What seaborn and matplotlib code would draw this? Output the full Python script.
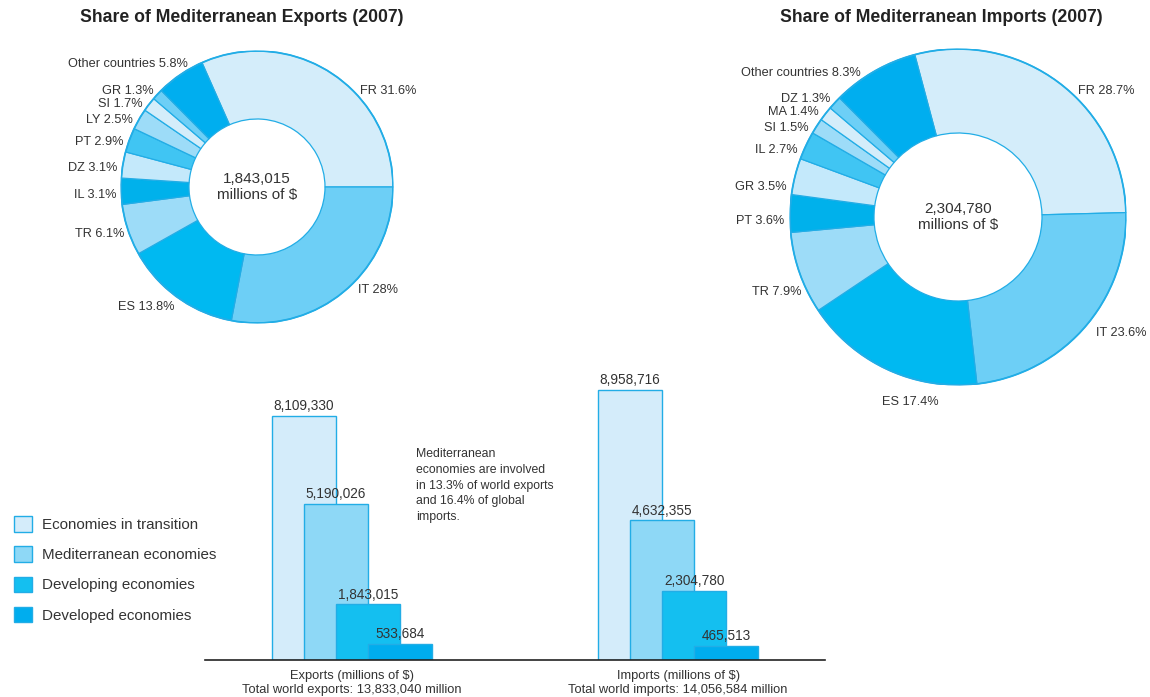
import numpy as np
import pandas as pd
import seaborn as sns
import matplotlib.pyplot as plt
from matplotlib.patches import Patch

# DATA
exp_countries = ["FR", "IT", "ES", "TR", "IL", "DZ", "PT", "LY", "SI", "GR", "Other countries"]
exp_share = [31.6, 28, 13.8, 6.1, 3.1, 3.1, 2.9, 2.5, 1.7, 1.3, 5.8]
exp_total = "1,843,015"

imp_countries = ["FR", "IT", "ES", "TR", "PT", "GR", "IL", "SI", "MA", "DZ", "Other countries"]
imp_share = [28.7, 23.6, 17.4, 7.9, 3.6, 3.5, 2.7, 1.5, 1.4, 1.3, 8.3]
imp_total = "2,304,780"

groups = ["Economies in transition", "Mediterranean economies",
          "Developing economies", "Developed economies"]
exports_val = [8109330, 5190026, 1843015, 533684]
imports_val = [8958716, 4632355, 2304780, 465513]
flow_labels = ["Exports (millions of $)\nTotal world exports: 13,833,040 million",
               "Imports (millions of $)\nTotal world imports: 14,056,584 million"]
note = ("Mediterranean\neconomies are involved\nin 13.3% of world exports\n"
        "and 16.4% of global\nimports.")

# label nudges (angle in degrees, radius), layout only
exp_nudge = {"FR": (-14, 1.035), "IT": (5, 1.06), "Other countries": (-5, 1.035),
             "SI": (1.5, 1.035), "LY": (1.5, 1.035), "PT": (1.5, 1.035),
             "DZ": (1.5, 1.035), "IL": (1.5, 1.035), "TR": (1, 1.035)}
imp_nudge = {"FR": (-7, 1.035), "IT": (1, 1.07), "ES": (10, 1.1), "TR": (6, 1.035),
             "PT": (2.5, 1.035), "GR": (4, 1.035), "IL": (2.5, 1.035),
             "SI": (2, 1.035), "MA": (1, 1.035), "Other countries": (4, 1.035)}

# STYLE
sns.set_style("white")
plt.rcParams["font.family"] = ["Liberation Sans", "DejaVu Sans"]
TXT = "#333333"
EDGE = "#22ade6"
pie_colors = ["#d4edfa", "#6dcff6", "#00b9f1", "#9ddcf8", "#00b1eb", "#c4e9fb",
              "#40c5f3", "#9ddcf8", "#d4edfa", "#6dcff6", "#00aeef"]
bar_colors = ["#d4ecfa", "#8ed8f6", "#14bff0", "#00adee"]

W, H = 1150, 697
fig = plt.figure(figsize=(W / 100, H / 100), dpi=100)


def px_axes(cx, cy, size):
    return fig.add_axes([(cx - size / 2) / W, 1 - (cy + size / 2) / H, size / W, size / H])


def donut(ax, shares, names, total, rot, nudge):
    start = shares[0] / sum(shares) * 360 + rot
    wedges, _ = ax.pie(shares, colors=pie_colors, startangle=start, counterclock=False,
                       wedgeprops=dict(width=0.5, edgecolor=EDGE, linewidth=0.9))
    ax.add_patch(plt.Circle((0, 0), 1, fill=False, edgecolor=EDGE, linewidth=1.3))
    ax.set_xlim(-1, 1)
    ax.set_ylim(-1, 1)
    for w, name, v in zip(wedges, names, shares):
        d_ang, r = nudge.get(name, (0, 1.035))
        ang = np.deg2rad((w.theta1 + w.theta2) / 2 + d_ang)
        x, y = np.cos(ang), np.sin(ang)
        ha = "left" if x > 0 else "right"
        va = "center"
        if y < -0.9:
            ha, va = "center", "top"
        elif y < -0.75:
            va = "top"
        ax.text(r * x, r * y, f"{name} {v:g}%", ha=ha, va=va, fontsize=9.2, color=TXT)
    ax.text(0, 0, f"{total}\nmillions of $", ha="center", va="center",
            fontsize=11, color=TXT, linespacing=1.2)


ax1 = px_axes(257, 187, 272)
donut(ax1, exp_share, exp_countries, exp_total, 0, exp_nudge)
ax2 = px_axes(958, 217, 336)
donut(ax2, imp_share, imp_countries, imp_total, 1.5, imp_nudge)

fig.text(241.5 / W, 1 - 18 / H, "Share of Mediterranean Exports (2007)", ha="center",
         va="center", fontsize=12.7, fontweight="bold", color="#222222")
fig.text(941 / W, 1 - 18 / H, "Share of Mediterranean Imports (2007)", ha="center",
         va="center", fontsize=12.7, fontweight="bold", color="#222222")

# BAR CHART (overlapping steps, half a bar apart)
gap = 10.19
df = pd.DataFrame({
    "group": groups * 2,
    "value": exports_val + imports_val,
    "x": [i + g * gap for g in range(2) for i in range(len(groups))],
})
axb = fig.add_axes([205 / W, 1 - 660 / H, 620 / W, 290 / H])
sns.barplot(data=df, x="x", y="value", hue="group", hue_order=groups, palette=bar_colors,
            native_scale=True, dodge=False, width=2, saturation=1, edgecolor=EDGE,
            linewidth=1, legend=False, ax=axb)
for c in axb.containers:
    axb.bar_label(c, labels=[f"{v:,.0f}" for v in c.datavalues], padding=2,
                  fontsize=9.8, color=TXT)
axb.set_xlim(-3.094, 16.28)
axb.set_ylim(0, 9.62e6)
axb.set_xticks([1.5, 1.5 + gap])
axb.set_xticklabels(flow_labels, fontsize=9.3, color=TXT, linespacing=1.3)
axb.tick_params(axis="x", length=0, pad=7)
axb.set_yticks([])
axb.set_xlabel("")
axb.set_ylabel("")
sns.despine(ax=axb, left=True)
axb.spines["bottom"].set_color("#222222")
axb.spines["bottom"].set_linewidth(1.2)

fig.text(416 / W, 1 - 448 / H, note, ha="left", va="top", fontsize=8.8,
         color=TXT, linespacing=1.42)

handles = [Patch(facecolor=c, edgecolor=EDGE, linewidth=1) for c in bar_colors]
fig.legend(handles, groups, loc="upper left", bbox_to_anchor=(14 / W, 1 - 516 / H),
           frameon=False, fontsize=10.9, handlelength=1.2, handleheight=1.2,
           labelspacing=0.95, handletextpad=0.65, borderpad=0, borderaxespad=0,
           labelcolor=TXT)

fig.savefig("out.png", dpi=100)
